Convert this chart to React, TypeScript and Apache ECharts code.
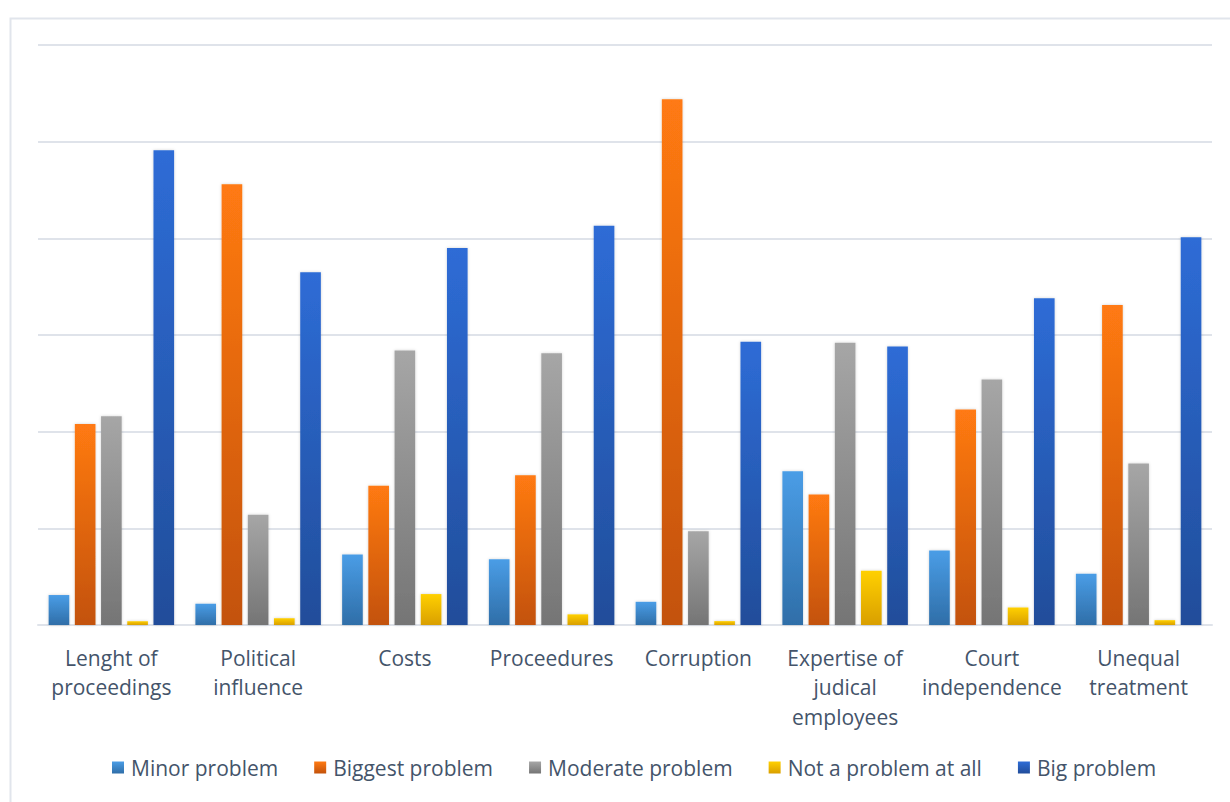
import React, { useEffect, useRef } from "react";
import * as echarts from "echarts";

// Categories (line breaks as shown under the axis)
const categories = [
  "Lenght of\nproceedings",
  "Political\ninfluence",
  "Costs",
  "Proceedures",
  "Corruption",
  "Expertise of\njudical\nemployees",
  "Court\nindependence",
  "Unequal\ntreatment",
];

// Series values
const minorProblem = [3.1, 2.2, 7.3, 6.8, 2.4, 15.9, 7.7, 5.3];
const biggestProblem = [20.8, 45.6, 14.4, 15.5, 54.4, 13.5, 22.3, 33.1];
const moderateProblem = [21.6, 11.4, 28.4, 28.1, 9.7, 29.2, 25.4, 16.7];
const notAProblem = [0.4, 0.7, 3.2, 1.1, 0.4, 5.6, 1.8, 0.5];
const bigProblem = [49.1, 36.5, 39.0, 41.3, 29.3, 28.8, 33.8, 40.1];

const seriesNames = [
  "Minor problem",
  "Biggest problem",
  "Moderate problem",
  "Not a problem at all",
  "Big problem",
];

const grad = (top: string, bottom: string) =>
  new echarts.graphic.LinearGradient(0, 0, 0, 1, [
    { offset: 0, color: top },
    { offset: 1, color: bottom },
  ]);

const palette: [string, string][] = [
  ["#4a9de6", "#2f6ea8"],
  ["#ff7a12", "#c3520b"],
  ["#a6a6a6", "#757575"],
  ["#ffd000", "#d99f00"],
  ["#2e6cd6", "#214d9a"],
];

export default function App() {
  const ref = useRef<HTMLDivElement>(null);

  useEffect(() => {
    if (!ref.current) return;
    const chart = echarts.init(ref.current, undefined, { renderer: "svg" });
    const values = [minorProblem, biggestProblem, moderateProblem, notAProblem, bigProblem];
    const textColor = "#44546a";
    const font = "'Open Sans', 'Noto Sans', sans-serif";

    chart.setOption({
      animation: false,
      backgroundColor: "#ffffff",
      graphic: [
        {
          type: "rect",
          left: 8,
          top: 16,
          shape: { x: 0, y: 0, width: 1260, height: 820 },
          style: { fill: "none", stroke: "#e1e5ec", lineWidth: 2 },
          silent: true,
        },
      ],
      grid: { left: 38, right: 18, top: 45, bottom: 177 },
      legend: {
        left: 107,
        top: 752,
        itemWidth: 12,
        itemHeight: 12,
        itemGap: 36,
        icon: "rect",
        data: seriesNames,
        textStyle: { color: textColor, fontSize: 21, fontFamily: font, padding: [0, 0, 0, 2] },
      },
      xAxis: {
        type: "category",
        data: categories,
        axisLine: { show: true, lineStyle: { color: "#dfe3ea", width: 2 } },
        axisTick: { show: false },
        axisLabel: {
          color: textColor,
          fontSize: 21,
          fontFamily: font,
          lineHeight: 29.5,
          margin: 18,
          interval: 0,
          align: "center",
        },
      },
      yAxis: {
        type: "value",
        min: 0,
        max: 60,
        interval: 10,
        axisLabel: { show: false },
        axisLine: { show: false },
        axisTick: { show: false },
        splitLine: { lineStyle: { color: "#dfe3ea", width: 2 } },
      },
      series: seriesNames.map((name, i) => ({
        name,
        type: "bar",
        data: values[i],
        barCategoryGap: "14.5%",
        barGap: "27%",
        itemStyle: {
          color: grad(palette[i][0], palette[i][1]),
          shadowBlur: 3,
          shadowColor: "rgba(0,0,0,0.18)",
        },
      })),
    });

    return () => chart.dispose();
  }, []);

  return (
    <div
      ref={ref}
      style={{ position: "absolute", left: 0, top: 0, width: 1230, height: 802 }}
    />
  );
}
